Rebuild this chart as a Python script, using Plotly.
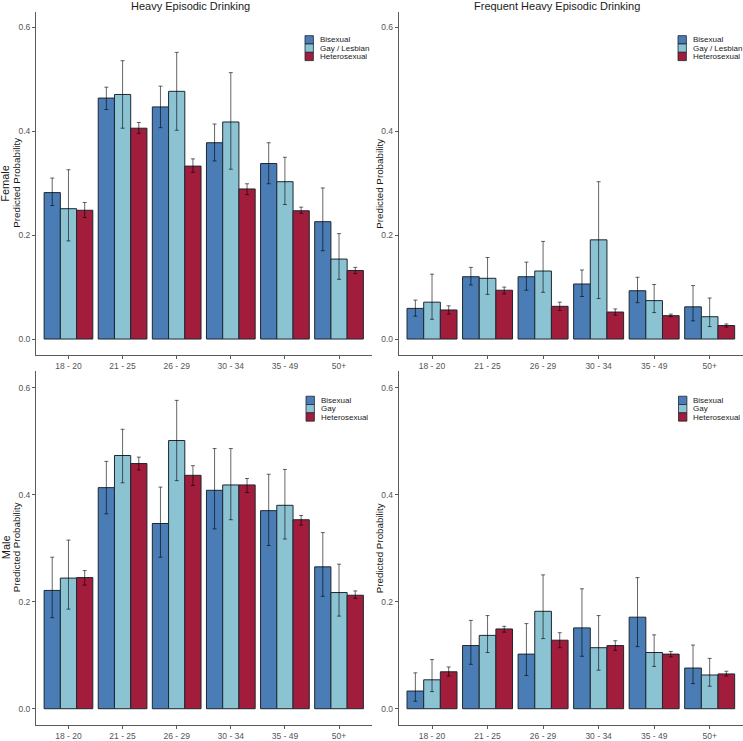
import plotly.graph_objects as go

W, H = 743, 741

age_groups = ["18 - 20", "21 - 25", "26 - 29", "30 - 34", "35 - 49", "50+"]
labels_female = ["Bisexual", "Gay / Lesbian", "Heterosexual"]
labels_male = ["Bisexual", "Gay", "Heterosexual"]
colors = ["#4a7db5", "#8cc3d3", "#a11d3b"]

# ---- Female, Heavy Episodic Drinking ----
f_hed_bi = [0.282, 0.464, 0.447, 0.378, 0.338, 0.226]
f_hed_bi_lo = [0.257, 0.442, 0.407, 0.343, 0.299, 0.170]
f_hed_bi_hi = [0.310, 0.485, 0.487, 0.414, 0.378, 0.291]
f_hed_gay = [0.251, 0.471, 0.477, 0.418, 0.303, 0.154]
f_hed_gay_lo = [0.189, 0.406, 0.402, 0.327, 0.259, 0.115]
f_hed_gay_hi = [0.326, 0.536, 0.552, 0.513, 0.350, 0.203]
f_hed_het = [0.248, 0.406, 0.333, 0.289, 0.247, 0.132]
f_hed_het_lo = [0.234, 0.396, 0.321, 0.278, 0.242, 0.126]
f_hed_het_hi = [0.263, 0.417, 0.347, 0.299, 0.254, 0.138]

# ---- Female, Frequent Heavy Episodic Drinking ----
f_fhed_bi = [0.059, 0.120, 0.120, 0.106, 0.093, 0.062]
f_fhed_bi_lo = [0.044, 0.104, 0.094, 0.082, 0.070, 0.035]
f_fhed_bi_hi = [0.075, 0.138, 0.148, 0.133, 0.119, 0.103]
f_fhed_gay = [0.071, 0.117, 0.131, 0.191, 0.074, 0.043]
f_fhed_gay_lo = [0.038, 0.086, 0.090, 0.078, 0.051, 0.024]
f_fhed_gay_hi = [0.125, 0.157, 0.188, 0.303, 0.105, 0.079]
f_fhed_het = [0.056, 0.094, 0.063, 0.052, 0.045, 0.026]
f_fhed_het_lo = [0.048, 0.087, 0.055, 0.046, 0.043, 0.023]
f_fhed_het_hi = [0.064, 0.100, 0.071, 0.058, 0.048, 0.029]

# ---- Male, Heavy Episodic Drinking ----
m_hed_bi = [0.221, 0.413, 0.346, 0.408, 0.370, 0.265]
m_hed_bi_lo = [0.170, 0.364, 0.283, 0.336, 0.305, 0.210]
m_hed_bi_hi = [0.283, 0.462, 0.414, 0.486, 0.438, 0.329]
m_hed_gay = [0.244, 0.473, 0.501, 0.418, 0.380, 0.217]
m_hed_gay_lo = [0.186, 0.422, 0.426, 0.353, 0.317, 0.173]
m_hed_gay_hi = [0.315, 0.522, 0.576, 0.486, 0.447, 0.270]
m_hed_het = [0.245, 0.458, 0.436, 0.418, 0.353, 0.212]
m_hed_het_lo = [0.231, 0.446, 0.417, 0.404, 0.343, 0.206]
m_hed_het_hi = [0.258, 0.470, 0.454, 0.430, 0.361, 0.220]

# ---- Male, Frequent Heavy Episodic Drinking ----
m_fhed_bi = [0.033, 0.118, 0.102, 0.151, 0.171, 0.076]
m_fhed_bi_lo = [0.014, 0.083, 0.062, 0.098, 0.116, 0.047]
m_fhed_bi_hi = [0.067, 0.165, 0.159, 0.224, 0.245, 0.119]
m_fhed_gay = [0.054, 0.137, 0.182, 0.114, 0.105, 0.063]
m_fhed_gay_lo = [0.032, 0.105, 0.131, 0.072, 0.079, 0.042]
m_fhed_gay_hi = [0.092, 0.174, 0.250, 0.174, 0.138, 0.094]
m_fhed_het = [0.069, 0.149, 0.128, 0.118, 0.102, 0.065]
m_fhed_het_lo = [0.061, 0.143, 0.114, 0.109, 0.097, 0.061]
m_fhed_het_hi = [0.078, 0.154, 0.142, 0.127, 0.107, 0.070]

panels = [
    ("x", "y", [(f_hed_bi, f_hed_bi_lo, f_hed_bi_hi),
                (f_hed_gay, f_hed_gay_lo, f_hed_gay_hi),
                (f_hed_het, f_hed_het_lo, f_hed_het_hi)], labels_female),
    ("x2", "y2", [(f_fhed_bi, f_fhed_bi_lo, f_fhed_bi_hi),
                  (f_fhed_gay, f_fhed_gay_lo, f_fhed_gay_hi),
                  (f_fhed_het, f_fhed_het_lo, f_fhed_het_hi)], labels_female),
    ("x3", "y3", [(m_hed_bi, m_hed_bi_lo, m_hed_bi_hi),
                  (m_hed_gay, m_hed_gay_lo, m_hed_gay_hi),
                  (m_hed_het, m_hed_het_lo, m_hed_het_hi)], labels_male),
    ("x4", "y4", [(m_fhed_bi, m_fhed_bi_lo, m_fhed_bi_hi),
                  (m_fhed_gay, m_fhed_gay_lo, m_fhed_gay_hi),
                  (m_fhed_het, m_fhed_het_lo, m_fhed_het_hi)], labels_male),
]

FONT = "Liberation Sans, Arial, Helvetica, sans-serif"
OUTLINE = "#1d2731"

fig = go.Figure()
for xa, ya, series, labs in panels:
    for i, (vals, lo, hi) in enumerate(series):
        fig.add_trace(go.Bar(
            x=age_groups, y=vals, xaxis=xa, yaxis=ya,
            name=labs[i], offsetgroup=str(i), showlegend=False,
            marker=dict(color=colors[i], line=dict(color=OUTLINE, width=1)),
            error_y=dict(type="data", symmetric=False,
                         array=[h - v for h, v in zip(hi, vals)],
                         arrayminus=[v - l for v, l in zip(vals, lo)],
                         color="rgba(0,0,0,0.6)", thickness=1, width=2),
        ))

def px_x(p):
    return p / W

def px_y(p):
    return 1 - p / H

# panel pixel boxes: (left, right, top, bottom)
boxes = {
    "1": (36, 371.5, 12, 358),
    "2": (398.7, 743, 12, 358),
    "3": (36, 371.5, 375, 731.7),
    "4": (398.7, 743, 375, 731.7),
}

axis_common = dict(showline=True, linecolor="#5a5a5a", linewidth=1,
                   ticks="outside", ticklen=3, tickcolor="#5a5a5a",
                   showgrid=False, zeroline=False,
                   tickfont=dict(family=FONT, size=8.5, color="#555555"))

layout = dict(
    width=W, height=H, margin=dict(l=0, r=0, t=0, b=0),
    paper_bgcolor="white", plot_bgcolor="white",
    barmode="group", bargap=0.1, bargroupgap=0,
    showlegend=False, font=dict(family=FONT),
)
for k, (l, r, t, b) in boxes.items():
    suffix = "" if k == "1" else k
    layout["xaxis" + suffix] = dict(
        domain=[px_x(l), px_x(r)], anchor="y" + suffix,
        type="category", categoryorder="array", categoryarray=age_groups,
        range=[-0.6, 5.6], **axis_common)
    layout["yaxis" + suffix] = dict(
        domain=[px_y(b), px_y(t)], anchor="x" + suffix,
        range=[-0.03, 0.63], tickvals=[0, 0.2, 0.4, 0.6],
        tickformat=".1f", **axis_common)
fig.update_layout(**layout)

ann = []
shapes = []
# column titles
ann.append(dict(text="Heavy Episodic Drinking", x=px_x(190), y=px_y(6.5),
                xref="paper", yref="paper", showarrow=False,
                xanchor="center", yanchor="middle",
                font=dict(family=FONT, size=11, color="#1a1a1a")))
ann.append(dict(text="Frequent Heavy Episodic Drinking", x=px_x(557), y=px_y(6.5),
                xref="paper", yref="paper", showarrow=False,
                xanchor="center", yanchor="middle",
                font=dict(family=FONT, size=11, color="#1a1a1a")))
# row labels and y titles
for txt, xpx, ypx, size in [("Female", 5.5, 185, 11), ("Male", 5.5, 553, 11),
                            ("Predicted Probability", 16.5, 185, 9.8),
                            ("Predicted Probability", 16.5, 553, 9.8),
                            ("Predicted Probability", 379.5, 185, 9.8),
                            ("Predicted Probability", 379.5, 553, 9.8)]:
    ann.append(dict(text=txt, x=px_x(xpx), y=px_y(ypx), xref="paper", yref="paper",
                    showarrow=False, textangle=-90, xanchor="center", yanchor="middle",
                    font=dict(family=FONT, size=size, color="#1a1a1a")))

# legends (key boxes + labels)
legend_pos = [(305, 36, labels_female), (678, 36, labels_female),
              (306, 400, labels_male), (678.5, 400, labels_male)]
key = 8.4
for lx, ly, labs in legend_pos:
    for i, lab in enumerate(labs):
        top = ly + i * key
        shapes.append(dict(type="rect", xref="paper", yref="paper",
                           x0=px_x(lx), x1=px_x(lx + key),
                           y0=px_y(top + key), y1=px_y(top),
                           fillcolor=colors[i], line=dict(color=OUTLINE, width=0.8)))
        ann.append(dict(text=lab, x=px_x(lx + key + 4.5), y=px_y(top + key / 2),
                        xref="paper", yref="paper", showarrow=False,
                        xanchor="left", yanchor="middle",
                        font=dict(family=FONT, size=8, color="#1a1a1a")))

fig.update_layout(annotations=ann, shapes=shapes)
fig.write_html("out.html")
